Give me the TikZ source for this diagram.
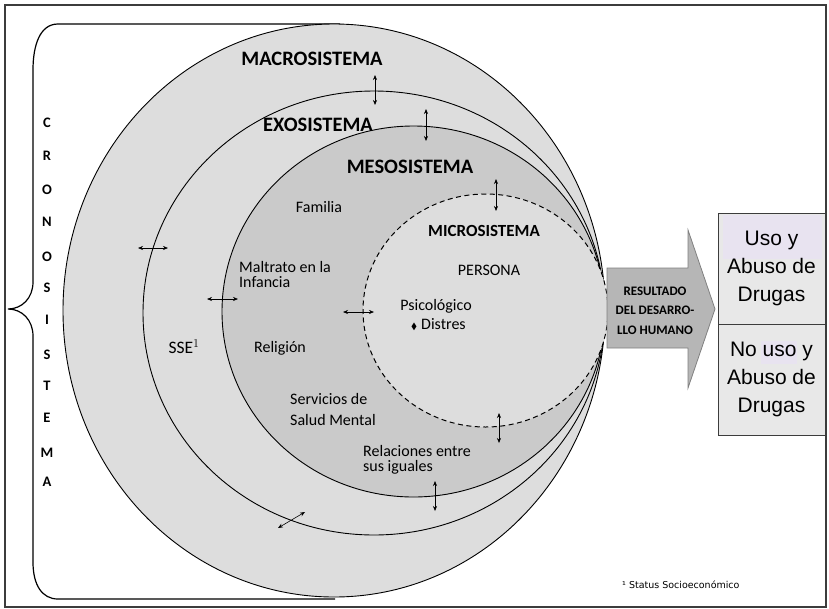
\documentclass[tikz,border=0pt]{standalone}
\usepackage{fontspec}
\usepackage{amssymb}
\setmainfont{Carlito}
\newfontfamily\arialf{Liberation Sans}
\newfontfamily\footf{DejaVu Sans}
\usetikzlibrary{arrows.meta}
\definecolor{ringA}{RGB}{221,221,221}
\definecolor{ringB}{RGB}{202,202,202}
\definecolor{blockgray}{RGB}{182,182,182}
\definecolor{boxgray}{RGB}{232,232,232}
\definecolor{lav}{RGB}{232,227,240}
\definecolor{framec}{RGB}{60,60,60}
\begin{document}
\begin{tikzpicture}[x=1pt,y=-1pt,
  ring/.style={draw=black,line width=0.9pt},
  dbl/.style={{Stealth[length=5pt,width=4pt]}-{Stealth[length=5pt,width=4pt]},line width=0.6pt},
  biglabel/.style={font=\bfseries\fontsize{20.5}{24}\selectfont,inner sep=0pt},
  midlabel/.style={font=\bfseries\fontsize{17}{20}\selectfont,inner sep=0pt},
  txt/.style={font=\fontsize{16}{15}\selectfont,inner sep=0pt},
  txtl/.style={font=\fontsize{16}{15}\selectfont,inner sep=0pt,align=left,anchor=west},
  crono/.style={font=\bfseries\fontsize{14.5}{16}\selectfont,inner sep=0pt},
  arialtxt/.style={font=\arialf\fontsize{21}{28}\selectfont,inner sep=0pt,align=center},
  outbox/.style={draw=framec,line width=1pt,fill=boxgray,minimum width=107pt,minimum height=111pt,inner sep=0pt}
]
\useasboundingbox (0,0) rectangle (829,608);
% frame
\draw[framec,line width=1.5pt] (5,5) rectangle (826,607);
% brace
\draw[line width=1.2pt] (340,24) -- (58,24) .. controls (40,24) and (33,45) .. (33,70) -- (33,282) .. controls (33,298) and (22,309) .. (8,309) .. controls (22,309) and (33,320) .. (33,336) -- (33,562) .. controls (33,585) and (42,599) .. (58,599) -- (335,599);
% rings
\filldraw[ring,fill=ringA] (334,310.5) ellipse [x radius=271pt, y radius=286.5pt];
\filldraw[ring,fill=ringA] (374,313) ellipse [x radius=231pt, y radius=222pt];
\filldraw[ring,fill=ringB] (413.5,311.5) ellipse [x radius=191.5pt, y radius=185.5pt];
\filldraw[line width=1pt,dash pattern=on 5pt off 3.5pt,fill=ringA] (485.5,310.5) ellipse [x radius=122.5pt, y radius=116.5pt];
% labels
\node[biglabel] (macro) at (312,59) {MACROSISTEMA};
\node[biglabel] (exo) at (318,125) {EXOSISTEMA};
\node[biglabel] (meso) at (410,167) {MESOSISTEMA};
\node[midlabel] (micro) at (484,231) {MICROSISTEMA};
\node[txt] (persona) at (489,270) {PERSONA};
\node[txt] (psico) at (436,306) {Psicológico};
\node[txt,anchor=west] (distres) at (411,324) {\fontsize{9}{9}\selectfont$\blacklozenge$\hspace{4pt}\fontsize{16}{15}\selectfont Distres};
\node[txt] (familia) at (319,207) {Familia};
\node[txtl] (maltrato) at (239,274.5) {Maltrato en la\\Infancia};
\node[font=\fontsize{17.5}{20}\selectfont,inner sep=0pt] (sse) at (184,347) {SSE$^{\scriptstyle 1}$};
\node[txt] (religion) at (280,348) {Religión};
\node[txtl] (servicios) at (290,409.5) {Servicios de\\[6pt]Salud Mental};
\node[txtl] (relaciones) at (363,459.5) {Relaciones entre\\sus iguales};
\node[font=\footf\fontsize{9.5}{10}\selectfont,inner sep=0pt,anchor=west] (foot) at (622,585) {¹ Status Socioeconómico};
% cronosistema letters
\foreach \l/\yy [count=\i] in {C/123,R/156,O/190,N/222,O/257,S/288,I/320,S/355,T/386,E/418,M/453,A/482}
  \node[crono] (cr\i) at (47,\yy) {\l};
% small double arrows
\coordinate (a1s) at (375,75); \coordinate (a1e) at (375,105);
\coordinate (a2s) at (426,109); \coordinate (a2e) at (426,141);
\coordinate (a3s) at (496,179); \coordinate (a3e) at (496,211);
\coordinate (a4s) at (138,248); \coordinate (a4e) at (168,248);
\coordinate (a5s) at (207,299); \coordinate (a5e) at (238,299);
\coordinate (a6s) at (343,312); \coordinate (a6e) at (374,312);
\coordinate (a7s) at (278,528); \coordinate (a7e) at (305,512);
\coordinate (a8s) at (499,413); \coordinate (a8e) at (499,443);
\coordinate (a9s) at (435,481); \coordinate (a9e) at (435,511);
\foreach \k in {1,...,9} \draw[dbl] (a\k s) -- (a\k e);
% block arrow
\filldraw[draw=gray,line width=0.8pt,fill=blockgray] (607,268) -- (688,268) -- (688,230) -- (715,309) -- (688,388) -- (688,348) -- (607,348) -- cycle;
\node[font=\bfseries\fontsize{13}{19.5}\selectfont,align=center,inner sep=0pt] (res) at (655,310.5) {RESULTADO\\DEL DESARRO-\\LLO HUMANO};
% output boxes
\node[outbox] (box1) at (771.5,268.5) {};
\node[outbox] (box2) at (771.5,379.5) {};
\fill[lav] (723,215) rectangle (822,259);
\fill[lav] (761,341) rectangle (797,364);
\node[arialtxt] (t1) at (box1.center) {Uso y\\Abuso de\\Drugas};
\node[arialtxt] (t2) at (box2.center) {No uso y\\Abuso de\\Drugas};
\end{tikzpicture}
\end{document}
